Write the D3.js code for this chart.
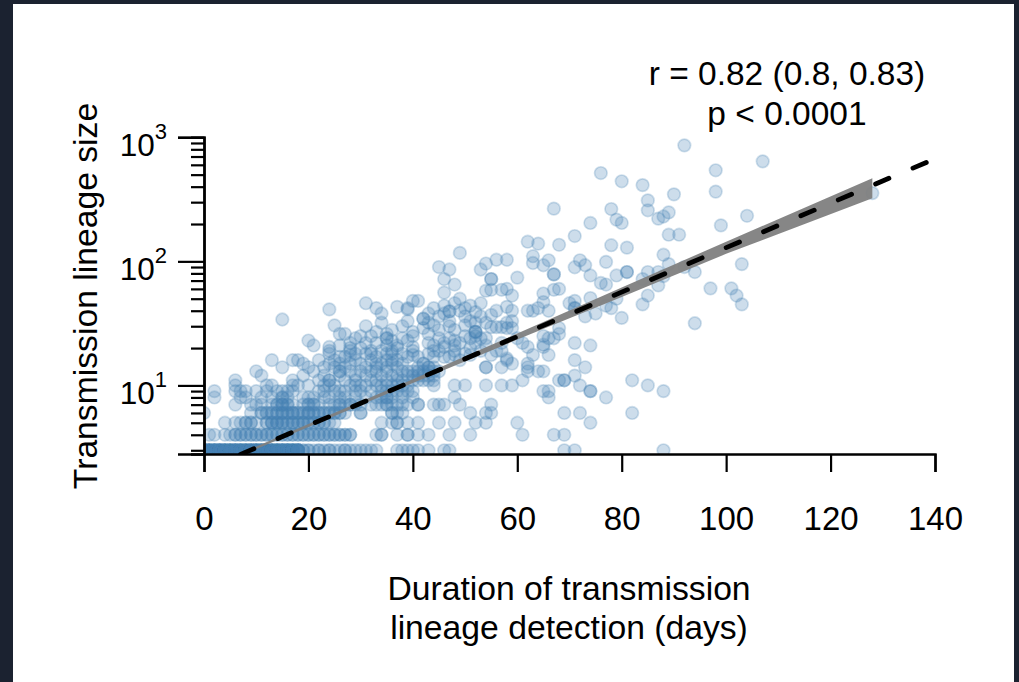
<!DOCTYPE html>
<html>
<head>
<meta charset="utf-8">
<script src="https://cdnjs.cloudflare.com/ajax/libs/d3/7.8.5/d3.min.js"></script>
<style>
  html, body { margin: 0; padding: 0; background: #1b2230; overflow: hidden; }
  text { font-family: "Liberation Sans", Arial, sans-serif; fill: #000; }
</style>
</head>
<body>
<div id="chart"></div>
<script>
// x tick labels and y decades
var xTicks = [0, 20, 40, 60, 80, 100, 120, 140];
var yDecades = [10, 100, 1000];
var yExponents = [1, 2, 3];
var yMinor = [3, 4, 5, 6, 7, 8, 9, 20, 30, 40, 50, 60, 70, 80, 90, 200, 300, 400, 500, 600, 700, 800, 900];

// lineages of size 3: days 0-29 pile up, so day and count
var size3Days = [0,1,2,3,4,5,6,7,8,9,10,11,12,13,14,15,16,17,18,19,20,21,22,23,24,25,26,27,28,29];
var size3Counts = [8,8,8,8,8,8,8,8,8,8,8,8,8,8,8,8,8,8,8,2,2,1,2,1,2,1,1,2,1,1];
var size3Extra = [30,31,32,33,37,38,39,40,41,43,46,47,69,71,88];

// the small integer sizes sit on rows, days per row
var rowSizes = [4,5,6,7,8,9,10,11,12,13,14,15,16];
var daysAt4 = [1,2,4,5,6,6,7,7,8,8,9,9,10,10,11,11,12,12,13,13,14,14,15,15,16,16,17,17,18,18,19,19,20,20,21,21,22,22,23,23,24,24,25,25,26,26,27,27,28,28,33,34,34,37,39,39,41,43,47,51,61,67,69];
var daysAt5 = [4,6,7,8,8,9,9,10,12,12,13,13,13,14,14,14,15,15,15,16,16,17,17,17,18,18,19,19,19,20,20,21,21,22,22,23,23,24,25,34,36,37,37,39,41,45,48,52,54,60,74];
var daysAt6 = [0,9,11,11,12,12,13,13,14,14,15,15,15,16,16,17,17,17,18,18,19,19,20,20,20,21,21,22,22,23,23,24,24,25,25,26,26,27,30,30,36,36,37,38,51,54,55,69,72,82];
var daysAt7 = [6,9,10,11,13,14,14,15,15,15,16,16,17,19,20,20,21,21,22,24,25,26,26,27,28,28,29,30,32,33,34,35,35,36,37,38,39,41,41,44,45,46,49,55];
var daysAt8 = [2,7,8,11,13,15,15,16,19,20,21,23,24,26,27,29,31,33,34,35,35,36,38,40,48,66,77];
var daysAt9 = [2,6,7,8,10,12,14,15,16,17,22,23,25,26,27,29,30,32,34,35,36,37,38,39,40,65,66,74,74,88];
var daysAt10 = [6,12,13,17,18,20,23,24,25,28,29,30,31,33,34,35,36,37,38,39,44,48,50,54,57,59,72,85];
var daysAt11 = [6,17,22,24,24,27,29,32,33,35,37,38,40,41,42,43,44,61,68,69,69,82];
var daysAt12 = [11,19,23,26,29,31,34,36,37,39,40,41,42,43,44,71];
var daysAt13 = [10,21,26,26,28,30,32,33,35,38,39,40,41,42,43,44,45,62,64,65];
var daysAt14 = [15,20,23,25,27,31,33,35,37,41,43,44,54,54,57,62,73];
var daysAt15 = [19,24,26,28,30,34,36,38,42,59,62];
var daysAt16 = [13,17,18,22,25,29,32,35,36,37,58,71];
var rowDays = [daysAt4,daysAt5,daysAt6,daysAt7,daysAt8,daysAt9,daysAt10,daysAt11,daysAt12,daysAt13,daysAt14,daysAt15,daysAt16];

// bigger lineages, day and size read one by one
var earlyPoints = [
  [15,34],[24,41],[31,46],[33,42],[34,38],[34,32],[37,43],[39,42],[40,48],[41,48],[25,30.5],[26,26],[30,25],[32,25],
  [35,26],[35,24],[35,24],[37,21],[40,25],[20,23],[21,21],[24,20.4],[24,19],[24,18],[28,22],[28,20],[28,19],[26,17],
  [27,17],[28,17.5],[31,18],[32,19],[32,18],[33,17],[34,19],[36,19],[36,18],[37,20],[38,18],[39,17],[40,19],[40,20.4],
  [40,17.6],[49,117],[45,90],[47,86],[46,72],[48,65],[46,56],[54,96],[53,86],[39,41],[49,50],
  [47,39.5],[47,39.5],[46,38],[49,40],[51,44],[53,46],[52,39],[54,58],[50,30.5],[52,32],[52,27],[52,27],[52,27],[52,25],
  [50,25],[54,24],[42,34.5],[42,34.5],[43,32],[44,30.5],[42,29],[40,27],[39,23],[43,22],[44,21],[44,19],[46,22],[46,20.4],
  [48,23],[48,21],[48,19],[48,17.6],[51,20],[51,17.6],[53,19],[42,15],[43,14],[35,21],[36,23],[38,24],[35,18],[33,22],
  [43,26],[45,28],[47,33],[48,28],[45,24],[47,24],[49,22],[50,18],[46,17],[44,17],[43,18],[41,17],[45,36],[43,38],
  [44,42],[46,44],[48,46],[50,42],[50,36],[51,33],[53,36],[54,32],[47,30],[45,19],[47,17],[49,16],[52,22],[53,24],
  [54,21],[51,24],[29,24],[27,26],[31,30],[33,27],[36,28],[38,30],[39,33],[30,20],[31,22],[29,18],[33,15],[26,21]
];
var latePoints = [
  [92,861],[107,640],[98,542],[76,515],[80,442],[84,412],[98,365],[90,347],[128,355],[85,310],[85,258],[67,266],[78,264],
  [89,248],[88,230],[87,221],[79,217],[80,204],[74,204],[104,233],[99,195],[71,160],[89,164],[91,164],[62,144],[64,139],
  [68,136],[78,135],[81,129],[63,110],[88,113],[56,103],[58,103],[66,102],[63,97],[65,93],[72,102],[73,93],[71,89.6],
  [77,99],[89,95],[103,95],[67,78.5],[67,78.5],[74,77],[79,77],[81,82],[81,82],[85,82],[94,82],[92,90],[87,82],[60,74],
  [55,72],[55,72],[84,72],[88,76],[76,67],[77,65],[87,64],[55,59],[57,59],[58,60],[67,59],[68,60],[97,60.6],[101,60.6],
  [102,53],[103,45],[59,53],[65,55],[85,53],[84,45],[74,50.6],[71,48],[79,50],[70,46],[65,47],[58,43],[56,40],[59,40],
  [62,40],[63,40],[64,42],[66,40],[71,42],[71,42],[77,44],[78,42],[73,36],[75,38],[80,35],[94,31.7],[55,37],[58,32],
  [56,29.5],[57,29.5],[55,29.5],[68,29],[58,29],[59,29],[59,33],[61,22],[65,25],[65,21.3],[71,22],[74,21],[62,20.4],
  [63,17.6],[65,20.4],[66,17.6],[66,24],[67,24],[68,26],[60,24],[57,22],[56,19],[55,17.6],[58,16.5],[57,19]
];

// fit line and its confidence band, log scale values
var fitDays = [7, 139.3];
var fitSizes = [2.78, 653];
var bandDays = [7, 20, 40, 60, 80, 100, 128];
var bandLow = [2.72, 4.62, 10.45, 23.4, 51.5, 115, 322];
var bandHigh = [2.84, 4.88, 11.2, 26.2, 61.5, 144, 467];

var width = 1019;
var height = 682;
var margin = {left: 204, right: 935, top: 137.3, bottom: 454};

var svg = d3.select("#chart")
  .append("svg")
  .attr("width", width)
  .attr("height", height)
  .style("display", "block");

// white sheet on the dark screenshot frame
svg.append("rect")
  .attr("x", 13).attr("y", 4)
  .attr("width", 1001).attr("height", 678)
  .attr("fill", "#fff");

var x = d3.scaleLinear().domain([0, 140]).range([margin.left, margin.right]);
var y = d3.scaleLog().domain([2.8, 1000]).range([margin.bottom, margin.top]);

svg.append("clipPath").attr("id", "plot")
  .append("rect")
  .attr("x", margin.left).attr("y", margin.top)
  .attr("width", margin.right - margin.left)
  .attr("height", margin.bottom - margin.top);

// flatten everything into [day, size]
var points = [];
size3Days.forEach(function(d, i) {
  d3.range(size3Counts[i]).forEach(function() { points.push([d, 3]); });
});
size3Extra.forEach(function(d) { points.push([d, 3]); });
rowSizes.forEach(function(s, i) {
  rowDays[i].forEach(function(d) { points.push([d, s]); });
});
points = points.concat(earlyPoints, latePoints);

var plot = svg.append("g").attr("clip-path", "url(#plot)");

plot.selectAll("circle")
  .data(points)
  .enter().append("circle")
  .attr("cx", function(d) { return x(d[0]); })
  .attr("cy", function(d) { return y(d[1]); })
  .attr("r", 6.3)
  .attr("fill", "steelblue")
  .attr("fill-opacity", 0.27)
  .attr("stroke", "steelblue")
  .attr("stroke-opacity", 0.25)
  .attr("stroke-width", 1.7);

var area = d3.area()
  .x(function(d) { return x(d); })
  .y0(function(d, i) { return y(bandLow[i]); })
  .y1(function(d, i) { return y(bandHigh[i]); });

plot.append("path")
  .datum(bandDays)
  .attr("d", area)
  .attr("fill", "#808080")
  .attr("fill-opacity", 0.95);

var line = d3.line()
  .x(function(d) { return x(d); })
  .y(function(d, i) { return y(fitSizes[i]); });

plot.append("path")
  .datum(fitDays)
  .attr("d", line)
  .attr("fill", "none")
  .attr("stroke", "#000")
  .attr("stroke-width", 4.8)
  .attr("stroke-linecap", "round")
  .attr("stroke-dasharray", "14.5 26.1");

// axes
var xAxis = svg.append("g")
  .attr("transform", "translate(0," + margin.bottom + ")")
  .call(d3.axisBottom(x).tickValues(xTicks).tickFormat(d3.format("d")).tickSize(18).tickPadding(34));

var yMinorAxis = svg.append("g")
  .attr("transform", "translate(" + margin.left + ",0)")
  .call(d3.axisLeft(y).tickValues(yMinor).tickSize(13).tickFormat(""));

var yAxis = svg.append("g")
  .attr("transform", "translate(" + margin.left + ",0)")
  .call(d3.axisLeft(y).tickValues(yDecades).tickSize(26).tickFormat(""));

[xAxis, yMinorAxis, yAxis].forEach(function(a) {
  a.select(".domain").attr("stroke", "#000").attr("stroke-width", 2.4);
  a.selectAll(".tick line").attr("stroke", "#000").attr("stroke-width", 2.2);
});
xAxis.selectAll("text")
  .attr("fill", "#000")
  .attr("dy", 0)
  .attr("y", 76)
  .style("font-size", "33px")
  .style("font-family", '"Liberation Sans", Arial, sans-serif');
yMinorAxis.selectAll("text").remove();

// 10^n labels
yAxis.selectAll(".tick").each(function(d, i) {
  var t = d3.select(this).select("text")
    .attr("x", -37)
    .attr("dy", 18)
    .text(null);
  t.append("tspan").style("font-size", "31.5px").text("10");
  t.append("tspan")
    .attr("dy", -17)
    .style("font-size", "22px")
    .text(yExponents[i]);
});

svg.append("text")
  .attr("transform", "translate(97,296) rotate(-90)")
  .attr("text-anchor", "middle")
  .style("font-size", "33.7px")
  .text("Transmission lineage size");

var xTitle = ["Duration of transmission", "lineage detection (days)"];
svg.selectAll(".xtitle")
  .data(xTitle)
  .enter().append("text")
  .attr("class", "xtitle")
  .attr("x", 569)
  .attr("y", function(d, i) { return 600 + i * 39; })
  .attr("text-anchor", "middle")
  .style("font-size", "33.7px")
  .text(function(d) { return d; });

var statLines = ["r = 0.82 (0.8, 0.83)", "p < 0.0001"];
svg.selectAll(".stat")
  .data(statLines)
  .enter().append("text")
  .attr("class", "stat")
  .attr("x", 787)
  .attr("y", function(d, i) { return 85 + i * 40; })
  .attr("text-anchor", "middle")
  .style("font-size", "33.5px")
  .text(function(d) { return d; });
</script>
</body>
</html>
